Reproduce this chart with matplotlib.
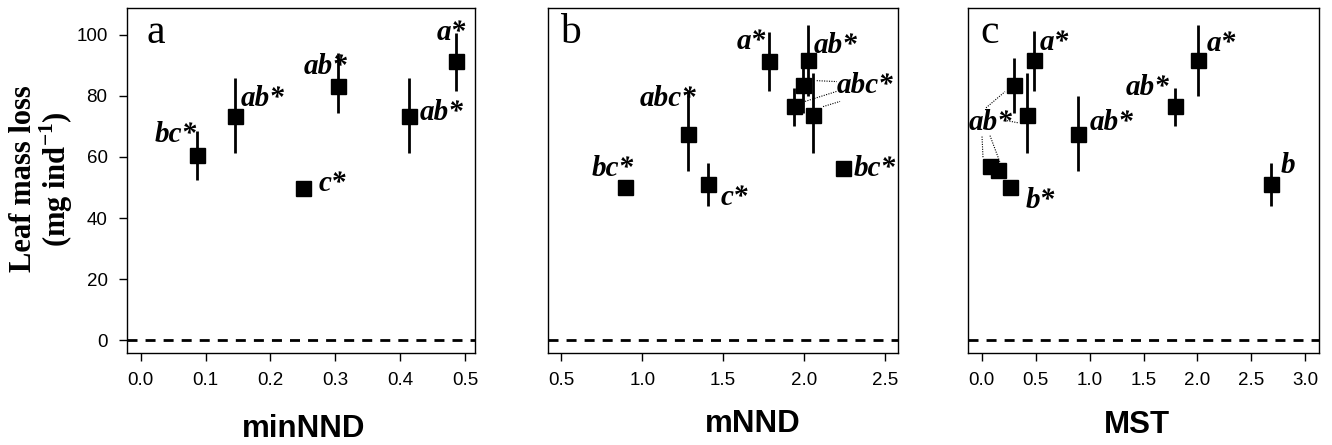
import matplotlib
matplotlib.use("Agg")
import matplotlib.pyplot as plt
import numpy as np

plt.rcParams['font.family'] = ['Liberation Sans', 'DejaVu Sans']
plt.rcParams['mathtext.fontset'] = 'custom'
plt.rcParams['mathtext.rm'] = 'Liberation Serif:bold'
plt.rcParams['mathtext.bf'] = 'Liberation Serif:bold'

# panel a : minNND
a_x = [0.087, 0.146, 0.2505, 0.3035, 0.414, 0.485]
a_y = [60.5, 73.5, 49.9, 83.4, 73.5, 91.5]
a_lo = [52.6, 61.3, 47.5, 74.4, 61.3, 81.5]
a_hi = [68.4, 85.8, 50.5, 94.0, 85.8, 100.5]
a_lab = ['bc*', 'ab*', 'c*', 'ab*', 'ab*', 'a*']
a_lab_x = [0.086, 0.154, 0.2736, 0.2505, 0.4295, 0.456]
a_lab_y = [64.8, 76.8, 48.8, 87.3, 72.2, 98.4]
a_lab_ha = ['right', 'left', 'left', 'left', 'left', 'left']

# panel b : mNND
b_x = [0.894, 1.285, 1.409, 1.786, 2.023, 1.996, 1.94, 2.057, 2.243]
b_y = [50.2, 67.6, 51.0, 91.6, 91.8, 83.7, 76.6, 73.9, 56.4]
b_lo = [48.0, 55.3, 43.9, 81.5, 80.1, 74.4, 70.0, 61.3, 55.0]
b_hi = [51.5, 82.0, 58.1, 101.1, 103.3, 89.6, 82.6, 87.5, 57.5]
b_lab = ['bc*', 'abc*', 'c*', 'a*', 'ab*', 'abc*', 'bc*']
b_lab_x = [0.688, 0.982, 1.485, 1.584, 2.057, 2.202, 2.305]
b_lab_y = [53.9, 76.8, 44.4, 95.3, 94.2, 80.9, 53.7]
b_lead_x0 = [2.078, 2.006, 2.117]
b_lead_y0 = [85.0, 78.2, 76.5]
b_lead_x1 = [2.202, 2.202, 2.222]
b_lead_y1 = [84.7, 81.5, 78.2]

# panel c : MST
c_x = [0.077, 0.154, 0.262, 0.303, 0.417, 0.488, 0.89, 1.796, 2.003, 2.684]
c_y = [57.0, 55.6, 50.2, 83.7, 73.9, 91.8, 67.6, 76.8, 91.8, 51.0]
c_lo = [56.0, 54.5, 48.0, 74.4, 61.3, 81.5, 55.3, 70.0, 80.1, 43.9]
c_hi = [58.0, 56.5, 51.0, 92.4, 87.5, 101.3, 80.1, 82.6, 103.3, 58.1]
c_lab = ['a*', 'ab*', 'b*', 'ab*', 'ab*', 'a*', 'b']
c_lab_x = [0.541, -0.124, 0.411, 0.998, 1.339, 2.087, 2.767]
c_lab_y = [95.1, 69.0, 43.4, 69.0, 80.4, 94.6, 54.8]
c_lead_x0 = [0.040, 0.235, 0.003, 0.077]
c_lead_y0 = [76.1, 71.9, 66.7, 67.0]
c_lead_x1 = [0.216, 0.337, 0.012, 0.170]
c_lead_y1 = [81.4, 71.2, 59.8, 58.2]

panels = [
    dict(x=a_x, y=a_y, lo=a_lo, hi=a_hi, lab=a_lab, lx=a_lab_x, ly=a_lab_y,
         ha=a_lab_ha, lead=None, letter='a', xlim=(-0.021, 0.515),
         ticks=np.arange(0, 0.51, 0.1), left=127, width=348, lx_pos=304, xl_base=437,
         xlabel='minNND', letter_x=0.057),
    dict(x=b_x, y=b_y, lo=b_lo, hi=b_hi, lab=b_lab, lx=b_lab_x, ly=b_lab_y,
         ha=None, lead=(b_lead_x0, b_lead_y0, b_lead_x1, b_lead_y1), letter='b',
         xlim=(0.418, 2.58), ticks=np.arange(0.5, 2.51, 0.5), left=548, width=350,
         lx_pos=753, xl_base=432, xlabel='mNND', letter_x=0.034),
    dict(x=c_x, y=c_y, lo=c_lo, hi=c_hi, lab=c_lab, lx=c_lab_x, ly=c_lab_y,
         ha=None, lead=(c_lead_x0, c_lead_y0, c_lead_x1, c_lead_y1), letter='c',
         xlim=(-0.127, 3.127), ticks=np.arange(0, 3.01, 0.5), left=968, width=351,
         lx_pos=1137, xl_base=433, xlabel='MST', letter_x=0.034),
]

W, H = 1332, 445
fig = plt.figure(figsize=(W / 100, H / 100), dpi=100)

for i, p in enumerate(panels):
    ax = fig.add_axes([p['left'] / W, 1 - 353 / H, p['width'] / W, 345 / H])
    ax.set_xlim(*p['xlim'])
    ax.set_ylim(-4.2, 108.8)
    ax.axhline(0, color='black', lw=2, dashes=(3.6, 2.9))
    ax.vlines(p['x'], p['lo'], p['hi'], color='black', lw=2, zorder=2)
    ax.plot(p['x'], p['y'], 's', color='black', ms=10.8, zorder=3)
    for k, t in enumerate(p['lab']):
        ha = p['ha'][k] if p['ha'] else 'left'
        ax.text(p['lx'][k], p['ly'][k], t, ha=ha, va='baseline', fontsize=21,
                family='Liberation Serif', weight='bold', style='italic', zorder=4)
    if p['lead']:
        x0, y0, x1, y1 = p['lead']
        for k in range(len(x0)):
            ax.plot([x0[k], x1[k]], [y0[k], y1[k]], color='black', lw=0.8,
                    ls=(0, (1, 1.2)), zorder=1)
    ax.text(p['letter_x'], 0.898, p['letter'], transform=ax.transAxes, fontsize=30,
            family='Liberation Serif', va='baseline', ha='left')
    ax.set_xticks(p['ticks'])
    ax.set_xticklabels(['%.1f' % v for v in p['ticks']])
    ax.tick_params(axis='x', direction='out', length=6, width=1, labelsize=13.5, pad=8)
    if i == 0:
        ax.set_yticks([0, 20, 40, 60, 80, 100])
        ax.tick_params(axis='y', direction='out', length=6, width=1, labelsize=13.5, pad=8)
    else:
        ax.set_yticks([])
    for s in ax.spines.values():
        s.set_linewidth(1)
    fig.text(p['lx_pos'] / W, 1 - p['xl_base'] / H, p['xlabel'], ha='center',
             va='baseline', fontsize=22.5, weight='bold')

fig.text(31 / W, 1 - 179 / H, 'Leaf mass loss', rotation=90, rotation_mode='anchor',
         ha='center', va='baseline', fontsize=22, family='Liberation Serif', weight='bold')
fig.text(66 / W, 1 - 179 / H, '(mg ind$^{-1}$)', rotation=90, rotation_mode='anchor',
         ha='center', va='baseline', fontsize=22, family='Liberation Serif', weight='bold')

fig.savefig('out.png', dpi=100)
